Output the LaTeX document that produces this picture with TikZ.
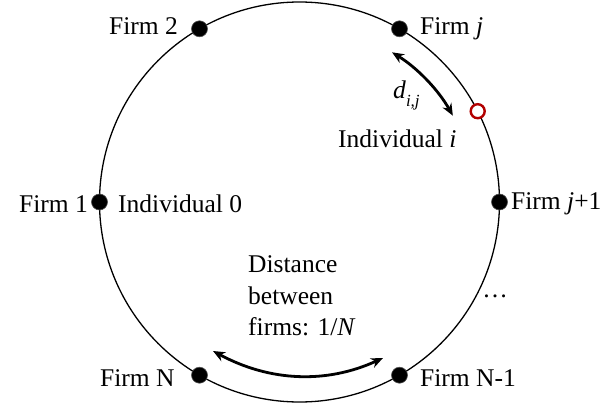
\documentclass[tikz,border=0pt]{standalone}
\usepackage{fontspec}
\setmainfont{Liberation Serif}
\usetikzlibrary{arrows.meta}
\begin{document}
\begin{tikzpicture}[x=1pt,y=-1pt,
  firm/.style={circle,fill=black,draw=black!70,line width=0.6pt,inner sep=0pt,minimum size=16pt},
  indiv/.style={circle,fill=white,draw=red!70!black,line width=2.4pt,inner sep=0pt,minimum size=14pt},
  lbl/.style={inner sep=0pt,font=\fontsize{25.5}{30}\selectfont},
  ring/.style={line width=1.3pt},
  dist/.style={line width=2.8pt,{Stealth[length=12pt,width=10pt]}-{Stealth[length=12pt,width=10pt]}}]
\useasboundingbox (0,0) rectangle (605,404);
\fill[white] (0,0) rectangle (605,404);
\coordinate (c) at (299.5,202);
\draw[ring] (c) circle[radius=200];
% firms
\node[firm] (f2)  at (199.5,28.8) {};
\node[firm] (fj)  at (399.5,28.8) {};
\node[firm] (f1)  at (99.5,202) {};
\node[firm] (fj1) at (499.5,202) {};
\node[firm] (fN)  at (199.5,375.2) {};
\node[firm] (fN1) at (399.5,375.2) {};
\node[indiv] (ii) at (477.7,111.2) {};
% labels
\node[lbl,anchor=base east] (lf2) at (178,35) {Firm 2};
\node[lbl,anchor=base west] (lfj) at (420,35) {Firm \textit{j}};
\node[lbl,anchor=base east] (lf1) at (88,212) {Firm 1};
\node[lbl,anchor=base west] (li0) at (118,212) {Individual 0};
\node[lbl,anchor=base west] (lfj1) at (511,209) {Firm \textit{j}+1};
\node[lbl,anchor=base west] (lfN) at (100,386) {Firm N};
\node[lbl,anchor=base west] (lfN1) at (420,386) {Firm N-1};
\node[lbl,anchor=base west] (ld) at (393,99) {\textit{d}\raisebox{-0.28em}{\fontsize{17}{20}\selectfont\textit{i,j}}};
\node[lbl,anchor=base west] (lii) at (338,147) {Individual \textit{i}};
\node[lbl,anchor=base west] (ld1) at (248,272) {Distance};
\node[lbl,anchor=base west] (ld2) at (248,304) {between};
\node[lbl,anchor=base west] (ld3) at (248,335) {firms: 1/\textit{N}};
\node[lbl,anchor=base] (dots) at (495,297) {\ldots};
% arrows
\coordinate (da) at (392,52.3);
\coordinate (db) at (452.8,115.6);
\draw[dist] (da) arc[start angle=-58.3, end angle=-29.4, radius=176];
\coordinate (ea) at (213,351);
\coordinate (eb) at (383,358);
\draw[dist] (ea) .. controls (269.7,381.7) and (326.3,384) .. (eb);
\end{tikzpicture}
\end{document}
